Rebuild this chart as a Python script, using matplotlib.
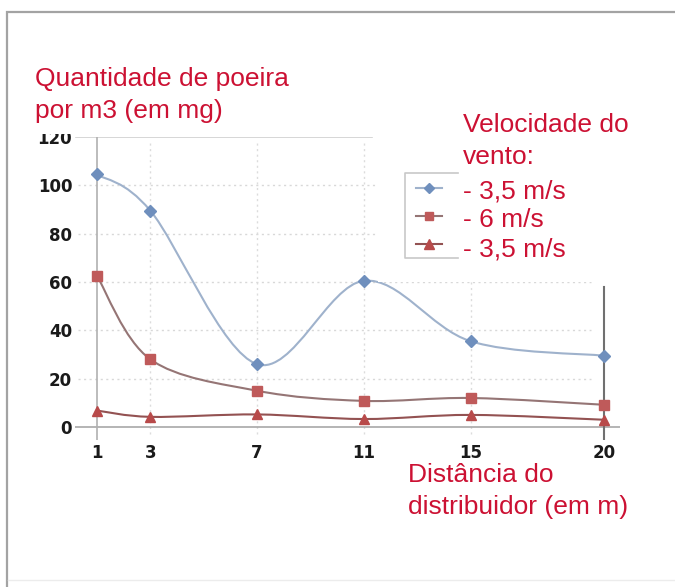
import numpy as np
import matplotlib
matplotlib.use('Agg')
import matplotlib.pyplot as plt
from matplotlib.path import Path
from matplotlib.patches import PathPatch, Rectangle
from matplotlib.lines import Line2D

# distance from the distributor (m)
dist = [1, 3, 7, 11, 15, 20]
# dust per m3 (mg)
v35a = [104.5, 89.5, 26, 60.5, 35.5, 29.5]
v6 = [62.5, 28, 15, 10.8, 12, 9.2]
v35b = [6.8, 4.2, 5.2, 3.3, 5, 3]
labels = ['- 3,5 m/s', '- 6 m/s', '- 3,5 m/s']
yticks = [0, 20, 40, 60, 80, 100, 120]

W, H = 675, 587
red = '#cc1133'


def fx(px):
    return px / W


def fy(py):
    return 1 - py / H


def smooth_path(x, y):
    # catmull-rom through the points, written as cubic bezier segments
    pts = np.column_stack([x, y]).astype(float)
    ext = np.vstack([pts[0], pts, pts[-1]])
    verts = [pts[0]]
    codes = [Path.MOVETO]
    for i in range(1, len(ext) - 2):
        p0, p1, p2, p3 = ext[i - 1], ext[i], ext[i + 1], ext[i + 2]
        verts += [p1 + (p2 - p0) / 6, p2 - (p3 - p1) / 6, p2]
        codes += [Path.CURVE4] * 3
    return Path(verts, codes)


fig = plt.figure(figsize=(W / 100, H / 100), dpi=100)

# outer frame
fig.patches.append(Rectangle((fx(7), fy(600)), fx(700), fy(12) - fy(600),
                             transform=fig.transFigure, fill=False,
                             edgecolor='#a3a3a3', lw=1.6))
fig.lines.append(Line2D([fx(8), fx(675)], [fy(580), fy(580)],
                        transform=fig.transFigure, color='#ececec', lw=1))

ax = fig.add_axes([fx(75), fy(440), fx(620) - fx(75), fy(137) - fy(440)])
ax.set_xlim(1 - 22 / 26.68, 20 + 16 / 26.68)
ax.set_ylim(-13 / 2.4167, 120)
for s in ax.spines.values():
    s.set_visible(False)

# grid
for g in yticks[1:-1]:
    ax.plot([0.3, 19.5], [g, g], color='#d8d8d8', lw=1, ls=(0, (1.5, 2.5)), zorder=1)
for g in dist[1:-1]:
    ax.plot([g, g], [-3, 118], color='#dcdcdc', lw=1, ls=(0, (1.5, 2.5)), zorder=1)
ax.plot([0.2, 11.3], [120, 120], color='#d0d0d0', lw=1.2, zorder=1)
ax.plot([0.0, 20.6], [0, 0], color='#a8a8a8', lw=1.2, zorder=1)
ax.plot([1, 1], [-5.4, 120], color='#b0b0b0', lw=1.2, zorder=1)
ax.plot([20, 20], [-5.4, 58], color='#707070', lw=1.5, zorder=1)

series = [
    (v35a, '#9fb2cc', '#6f8fbd', 'D', 6.5),
    (v6, '#957575', '#bf5a5a', 's', 7),
    (v35b, '#935252', '#b84a4a', '^', 7.5),
]
handles = []
for ys, lc, mc, mk, ms in series:
    ax.add_patch(PathPatch(smooth_path(dist, ys), fill=False, edgecolor=lc,
                           lw=1.5, zorder=2))
    ax.plot(dist, ys, ls='none', marker=mk, ms=ms, color=mc,
            markeredgecolor=mc, zorder=3)
    handles.append(Line2D([], [], color=lc, lw=1.5, marker=mk, ms=ms - 1,
                          markerfacecolor=mc, markeredgecolor=mc))

ax.set_xticks(dist)
ax.set_yticks(yticks)
ax.set_xticklabels([str(d) for d in dist])
ax.set_yticklabels([str(t) for t in yticks])
ax.tick_params(length=0, labelsize=12)
ax.tick_params(axis='y', pad=2)
ax.tick_params(axis='x', pad=3)
for t in ax.get_xticklabels() + ax.get_yticklabels():
    t.set_fontweight('bold')
    t.set_color('#1a1a1a')

# white area behind the legend text
ax.add_patch(Rectangle((fx(378), fy(282)), fx(662) - fx(378), fy(98) - fy(282),
                       transform=fig.transFigure, facecolor='white',
                       edgecolor='none', zorder=4))

leg = ax.legend(handles, ['', '', ''], loc='upper left',
                bbox_to_anchor=(fx(399), fy(163)), bbox_transform=fig.transFigure,
                frameon=False, fontsize=15, handlelength=1.25,
                labelspacing=0.37, borderpad=0.3, handletextpad=0.2)
leg.set_zorder(5)
ax.add_line(Line2D([fx(458), fx(405), fx(405), fx(458)],
                   [fy(173), fy(173), fy(258), fy(258)],
                   transform=fig.transFigure, color='#c8c8c8', lw=1.2, zorder=5))

# white area behind the y title (clips the top of the 120 label)
fig.patches.append(Rectangle((fx(28), fy(134)), fx(250) - fx(28), fy(50) - fy(134),
                             transform=fig.transFigure, facecolor='white',
                             edgecolor='none', zorder=1))

tkw = dict(color=red, fontsize=19, family='Liberation Sans', zorder=3)
fig.text(fx(35), fy(86), 'Quantidade de poeira', **tkw)
fig.text(fx(35), fy(118), 'por m3 (em mg)', **tkw)
fig.text(fx(463), fy(132), 'Velocidade do', **tkw)
fig.text(fx(463), fy(164), 'vento:', **tkw)
for lab, by in zip(labels, [199, 227, 256]):
    fig.text(fx(463), fy(by), lab, **tkw)
fig.text(fx(408), fy(482), 'Distância do', **tkw)
fig.text(fx(408), fy(514), 'distribuidor (em m)', **tkw)

fig.savefig('out.png', dpi=100, facecolor='white')
